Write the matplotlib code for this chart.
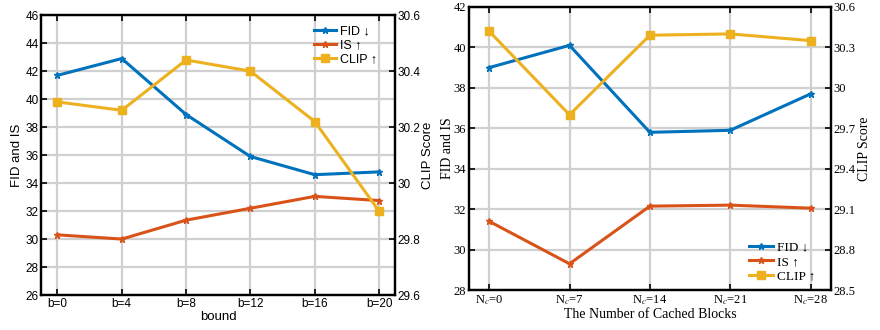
import matplotlib.pyplot as plt
import matplotlib.lines as mlines

# left panel: sweep over bound
bound_labels = ['b=0', 'b=4', 'b=8', 'b=12', 'b=16', 'b=20']
fid_bound = [41.7, 42.9, 38.9, 35.9, 34.6, 34.8]
is_bound = [30.3, 30.0, 31.35, 32.2, 33.05, 32.75]
clip_bound = [30.29, 30.26, 30.44, 30.40, 30.22, 29.90]

# right panel: number of cached blocks
nc_labels = [r'N$_c$=0', r'N$_c$=7', r'N$_c$=14', r'N$_c$=21', r'N$_c$=28']
fid_nc = [39.0, 40.1, 35.8, 35.9, 37.7]
is_nc = [31.4, 29.3, 32.15, 32.2, 32.05]
clip_nc = [30.42, 29.80, 30.39, 30.40, 30.35]

blue = '#0072BD'
orange = '#D95319'
yellow = '#EDB120'

plt.rcParams['mathtext.fontset'] = 'stix'

fig = plt.figure(figsize=(8.8, 3.3), dpi=100)


def draw_panel(rect, labels, fid, is_, clip, ylim, yticks, y2lim, y2ticks,
               y2labels, xlabel, family, fs, legend_loc, legend_anchor,
               ylpad, y2lpad):
    ax = fig.add_axes(rect)
    x = list(range(len(labels)))
    ax.set_xlim(-0.25, len(labels) - 1 + 0.25)
    ax.set_ylim(*ylim)
    ax.set_yticks(yticks)
    ax.set_xticks(x)
    ax.set_xticklabels(labels, family=family, fontsize=fs)
    ax.set_yticklabels([str(v) for v in yticks], family=family, fontsize=fs)
    ax.grid(True, color='#d0d0d0', linewidth=1.6)
    ax.set_axisbelow(True)
    ax.tick_params(direction='in', length=4, width=1.2, top=True, pad=2)
    for s in ax.spines.values():
        s.set_linewidth(1.6)
    ax.set_ylabel('FID and IS', family=family, fontsize=fs + 1, labelpad=ylpad)
    ax.set_xlabel(xlabel, family=family, fontsize=fs + 1, labelpad=1)
    ax.plot(x, fid, color=blue, lw=2.2, marker='*', ms=5)
    ax.plot(x, is_, color=orange, lw=2.2, marker='*', ms=5)

    ax2 = ax.twinx()
    ax2.set_ylim(*y2lim)
    ax2.set_yticks(y2ticks)
    ax2.set_yticklabels(y2labels, family=family, fontsize=fs)
    ax2.tick_params(direction='in', length=4, width=1.2, pad=2)
    ax2.set_ylabel('CLIP Score', family=family, fontsize=fs + 1, labelpad=y2lpad)
    ax2.plot(x, clip, color=yellow, lw=2.2, marker='s', ms=6)
    for s in ax2.spines.values():
        s.set_linewidth(1.6)

    handles = [
        mlines.Line2D([], [], color=blue, lw=2.2, marker='*', ms=5),
        mlines.Line2D([], [], color=orange, lw=2.2, marker='*', ms=5),
        mlines.Line2D([], [], color=yellow, lw=2.2, marker='s', ms=6),
    ]
    ax2.legend(handles, ['FID \u2193', 'IS \u2191', 'CLIP \u2191'],
               loc=legend_loc, bbox_to_anchor=legend_anchor,
               frameon=False, handlelength=1.8, handletextpad=0.3,
               labelspacing=0.15, borderaxespad=0.2,
               prop={'family': [family, 'DejaVu Sans'], 'size': fs + 0.5})
    return ax, ax2


draw_panel([0.047, 0.106, 0.402, 0.848], bound_labels,
           fid_bound, is_bound, clip_bound,
           (26, 46), list(range(26, 47, 2)),
           (29.6, 30.6), [29.6, 29.8, 30.0, 30.2, 30.4, 30.6],
           ['29.6', '29.8', '30', '30.2', '30.4', '30.6'],
           'bound', 'Liberation Sans', 8.5,
           'upper right', (0.97, 0.99), 2, 1)

draw_panel([0.533, 0.121, 0.411, 0.858], nc_labels,
           fid_nc, is_nc, clip_nc,
           (28, 42), list(range(28, 43, 2)),
           (28.5, 30.6), [28.5, 28.8, 29.1, 29.4, 29.7, 30.0, 30.3, 30.6],
           ['28.5', '28.8', '29.1', '29.4', '29.7', '30', '30.3', '30.6'],
           'The Number of Cached Blocks', 'Liberation Serif', 9,
           'lower right', (0.98, 0.0), 0, 2)

fig.savefig('out.png', dpi=100)
